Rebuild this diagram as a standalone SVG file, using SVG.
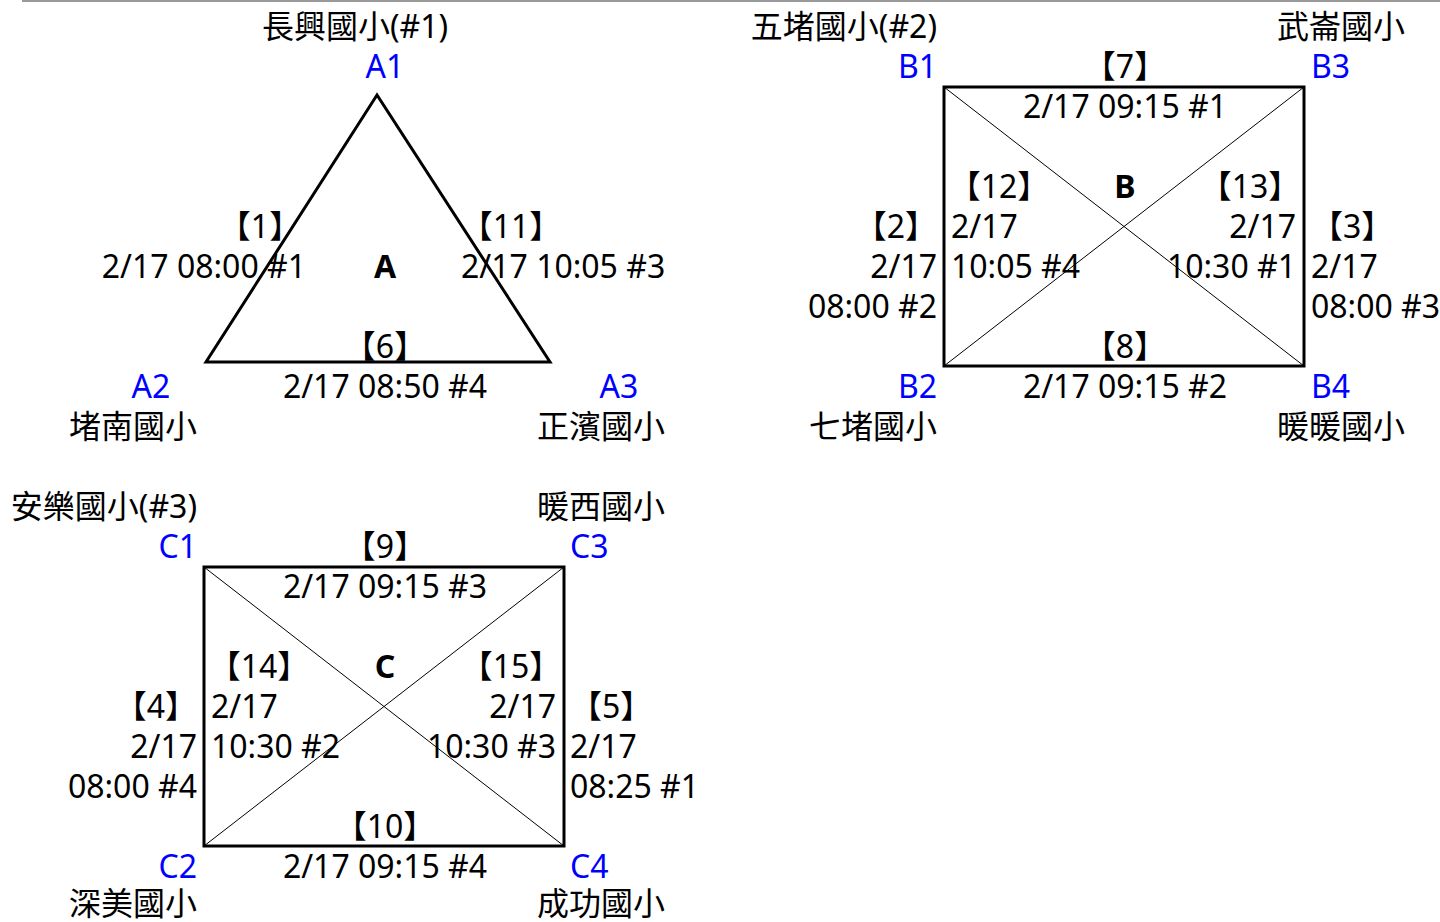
<svg xmlns="http://www.w3.org/2000/svg" width="1440" height="922" viewBox="0 0 1440 922">
<style>
text{font-family:"Noto Sans","Noto Sans CJK TC",sans-serif;font-size:32px;fill:#000}
.v{fill:#0000ff}
.b{font-weight:bold}
.m{text-anchor:middle}
.e{text-anchor:end}
.shape{fill:none;stroke:#000;stroke-width:3}
.diag{stroke:#000;stroke-width:1}
</style>
<rect width="1440" height="922" fill="#fff"/>
<line x1="22" y1="1" x2="1440" y2="1" stroke="#999" stroke-width="2"/>
<g id="connectors">
<polygon class="shape" points="377,95 206,362 550,362" stroke-linejoin="miter"/>
<rect class="shape" x="944" y="87" width="360" height="279"/>
<line class="diag" x1="944" y1="87" x2="1304" y2="366"/>
<line class="diag" x1="1304" y1="87" x2="944" y2="366"/>
<rect class="shape" x="204" y="567" width="360" height="279"/>
<line class="diag" x1="204" y1="567" x2="564" y2="846"/>
<line class="diag" x1="564" y1="567" x2="204" y2="846"/>
</g>
<g id="nodeA">
<text class="m" x="355" y="38">長興國小(#1)</text>
<text class="v m" x="385" y="78">A1</text>
<text class="m" x="260" y="238">【1】</text>
<text class="e" x="306" y="278">2/17 08:00 #1</text>
<text class="b m" x="385" y="278">A</text>
<text class="m" x="511" y="238">【11】</text>
<text x="461" y="278">2/17 10:05 #3</text>
<text class="m" x="385" y="358">【6】</text>
<text class="m" x="385" y="398">2/17 08:50 #4</text>
<text class="v m" x="151" y="398">A2</text>
<text class="e" x="197" y="438">堵南國小</text>
<text class="v m" x="619" y="398">A3</text>
<text class="e" x="665" y="438">正濱國小</text>
</g>
<g id="nodeB">
<text class="e" x="937" y="38">五堵國小(#2)</text>
<text class="e" x="1405" y="38">武崙國小</text>
<text class="v e" x="937" y="78">B1</text>
<text class="v" x="1311" y="78">B3</text>
<text class="m" x="1125" y="78">【7】</text>
<text class="m" x="1125" y="118">2/17 09:15 #1</text>
<text class="m" x="999" y="198">【12】</text>
<text class="b m" x="1125" y="198">B</text>
<text class="m" x="1250" y="198">【13】</text>
<text class="e" x="937" y="238">【2】</text>
<text class="e" x="937" y="278">2/17</text>
<text class="e" x="937" y="318">08:00 #2</text>
<text x="951" y="238">2/17</text>
<text x="951" y="278">10:05 #4</text>
<text class="e" x="1296" y="238">2/17</text>
<text class="e" x="1296" y="278">10:30 #1</text>
<text x="1311" y="238">【3】</text>
<text x="1311" y="278">2/17</text>
<text x="1311" y="318">08:00 #3</text>
<text class="m" x="1125" y="358">【8】</text>
<text class="m" x="1125" y="398">2/17 09:15 #2</text>
<text class="v e" x="937" y="398">B2</text>
<text class="v" x="1311" y="398">B4</text>
<text class="e" x="937" y="438">七堵國小</text>
<text class="e" x="1405" y="438">暖暖國小</text>
</g>
<g id="nodeC">
<text class="e" x="197" y="518">安樂國小(#3)</text>
<text class="e" x="665" y="518">暖西國小</text>
<text class="v e" x="197" y="558">C1</text>
<text class="v" x="570" y="558">C3</text>
<text class="m" x="385" y="558">【9】</text>
<text class="m" x="385" y="598">2/17 09:15 #3</text>
<text class="m" x="259" y="678">【14】</text>
<text class="b m" x="385" y="678">C</text>
<text class="m" x="511" y="678">【15】</text>
<text class="e" x="197" y="718">【4】</text>
<text class="e" x="197" y="758">2/17</text>
<text class="e" x="197" y="798">08:00 #4</text>
<text x="211" y="718">2/17</text>
<text x="211" y="758">10:30 #2</text>
<text class="e" x="556" y="718">2/17</text>
<text class="e" x="556" y="758">10:30 #3</text>
<text x="570" y="718">【5】</text>
<text x="570" y="758">2/17</text>
<text x="570" y="798">08:25 #1</text>
<text class="m" x="385" y="838">【10】</text>
<text class="m" x="385" y="878">2/17 09:15 #4</text>
<text class="v e" x="197" y="878">C2</text>
<text class="v" x="570" y="878">C4</text>
<text class="e" x="197" y="915">深美國小</text>
<text class="e" x="665" y="915">成功國小</text>
</g>
</svg>
